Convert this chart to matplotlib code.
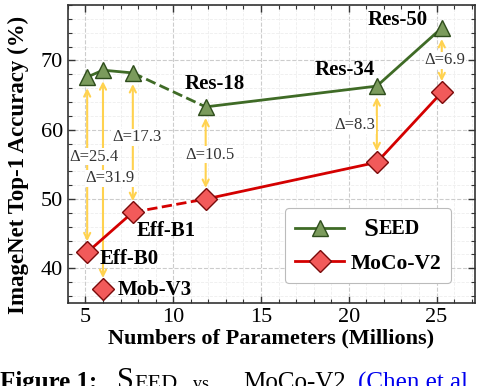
import matplotlib
matplotlib.use('Agg')
import matplotlib.pyplot as plt
from matplotlib.ticker import MultipleLocator

# data
names = ['Eff-B0', 'Mob-V3', 'Eff-B1', 'Res-18', 'Res-34', 'Res-50']
params = [5.1, 6.0, 7.7, 11.85, 21.6, 25.3]
seed_acc = [67.6, 68.6, 68.2, 63.3, 66.3, 74.7]
moco_acc = [42.3, 37.0, 48.1, 50.0, 55.3, 65.4]
deltas = ['25.4', '31.9', '17.3', '10.5', '8.3', '6.9']

plt.rcParams['font.family'] = ['Liberation Serif', 'DejaVu Serif']

fig = plt.figure(figsize=(4.78, 3.86), dpi=100)
ax = fig.add_axes([0.142, 0.215, 0.852, 0.772])

green_line = '#3f6b26'
green_face = '#7b9b5c'
green_edge = '#2e4d1c'
red_line = '#d40000'
red_face = '#f25a5a'
red_edge = '#7a0a0a'
gold = '#ffd24f'

# seed: solid / dashed / solid pieces
ax.plot(params[0:3], seed_acc[0:3], '-', color=green_line, lw=2, zorder=3)
ax.plot(params[2:4], seed_acc[2:4], '--', color=green_line, lw=2, zorder=3)
ax.plot(params[3:6], seed_acc[3:6], '-', color=green_line, lw=2, zorder=3)
ax.plot(params, seed_acc, '^', ms=12, mfc=green_face, mec=green_edge, mew=1, zorder=4)

# moco: Mob-V3 is left unconnected
ax.plot([params[0], params[2]], [moco_acc[0], moco_acc[2]], '-', color=red_line, lw=2, zorder=3)
ax.plot(params[2:4], moco_acc[2:4], '--', color=red_line, lw=2, zorder=3)
ax.plot(params[3:6], moco_acc[3:6], '-', color=red_line, lw=2, zorder=3)
ax.plot(params, moco_acc, 'D', ms=11, mfc=red_face, mec=red_edge, mew=1, zorder=4)

# gap arrows
for x, lo, hi in zip(params, moco_acc, seed_acc):
    ax.annotate('', xy=(x, hi), xytext=(x, lo),
                arrowprops=dict(arrowstyle='<->', color=gold, lw=1.5,
                                shrinkA=8, shrinkB=8, mutation_scale=11),
                zorder=2)

delta_pos = [(5.48, 56.1), (6.39, 53.0), (7.92, 58.9), (12.07, 56.4), (20.35, 60.7), (25.5, 70.0)]
for (tx, ty), d in zip(delta_pos, deltas):
    ax.text(tx, ty, '\u0394=' + d, fontsize=12, color='#333333', ha='center', va='center',
            bbox=dict(fc='white', ec='none', pad=0.5), zorder=2.5)

# model names, offsets in points from the point they label
name_offsets = [(8.6, -5, 'left', moco_acc), (10.6, -0.5, 'left', moco_acc), (3, -13.5, 'left', moco_acc),
                (6.3, 16.8, 'center', seed_acc), (-23, 11.3, 'center', seed_acc), (-32, 5.4, 'center', seed_acc)]
for i, (dx, dy, ha, ys) in enumerate(name_offsets):
    ax.annotate(names[i], (params[i], ys[i]), xytext=(dx, dy), textcoords='offset points',
                ha=ha, va='center', fontsize=15, fontweight='bold', zorder=5)

ax.set_xlim(4, 27.2)
ax.set_ylim(35, 78)
ax.xaxis.set_major_locator(MultipleLocator(5))
ax.xaxis.set_minor_locator(MultipleLocator(1))
ax.yaxis.set_major_locator(MultipleLocator(10))
ax.yaxis.set_minor_locator(MultipleLocator(2))
ax.tick_params(which='both', direction='in', top=True, right=True, labelsize=16, color='#333333')
ax.tick_params(which='major', length=5, width=1)
ax.tick_params(which='minor', length=3, width=0.8)
ax.grid(True, which='major', ls='--', color='#cccccc', lw=0.8)
ax.grid(True, which='minor', ls='--', color='#eeeeee', lw=0.6)
ax.set_axisbelow(True)
for s in ax.spines.values():
    s.set_color('#333333')
    s.set_linewidth(1.2)

ax.set_xlabel('Numbers of Parameters (Millions)', fontsize=16, fontweight='bold', labelpad=1)
ax.set_ylabel('ImageNet Top-1 Accuracy (%)', fontsize=16.5, fontweight='bold')
ax.yaxis.set_label_coords(-0.095, 0.463)

h1, = ax.plot([], [], '-^', color=green_line, lw=2, ms=12, mfc=green_face, mec=green_edge)
h2, = ax.plot([], [], '-D', color=red_line, lw=2, ms=11, mfc=red_face, mec=red_edge)
leg = ax.legend([h1, h2], ['  S', 'MoCo-V2'], loc='lower right', bbox_to_anchor=(0.941, 0.066),
                borderaxespad=0, prop=dict(size=15.5, weight='bold'), handlelength=2.3,
                handletextpad=0.3, borderpad=0.45,
                fancybox=True, edgecolor='#bbbbbb', framealpha=1, labelspacing=0.6)
leg.get_frame().set_linewidth(0.8)
leg.get_texts()[0].set_fontsize(19)
ax.annotate('EED', xy=(1, 0), xycoords=leg.get_texts()[0], xytext=(0, 1), textcoords='offset points',
            ha='left', va='bottom', fontsize=14.5, fontweight='bold', zorder=10)

# caption, cut off at the bottom of the picture
fig.text(0 / 478, -0.008, 'Figure 1:', fontsize=18, fontweight='bold', va='baseline')
fig.text(117 / 478, -0.008, 'S', fontsize=22, va='baseline')
fig.text(134 / 478, -0.008, 'EED', fontsize=16, va='baseline')
fig.text(193 / 478, -0.008, 'vs.', fontsize=13, va='baseline')
fig.text(243 / 478, -0.008, 'MoCo-V2', fontsize=18, va='baseline')
fig.text(358 / 478, -0.008, '(Chen et al', fontsize=18, va='baseline', color='#0000ee')

fig.savefig('out.png', dpi=100)
